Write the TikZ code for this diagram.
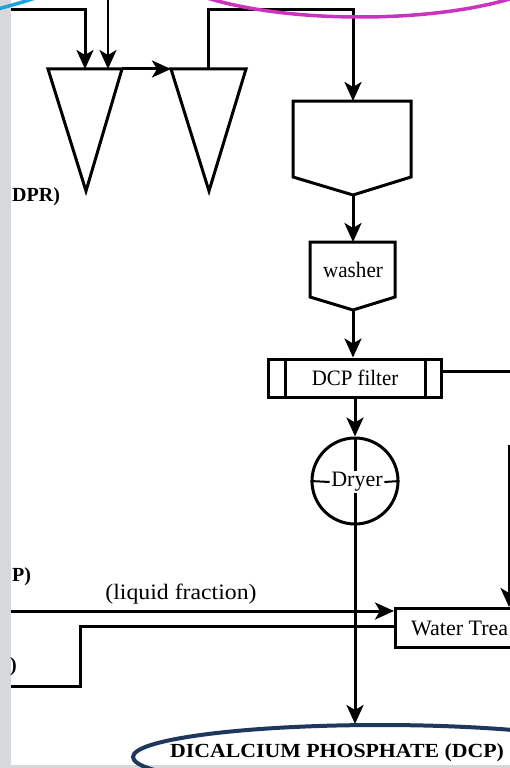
\documentclass[tikz,border=0pt]{standalone}
\usepackage{fontspec}
\setmainfont{Liberation Serif}
\usetikzlibrary{arrows.meta}
\definecolor{bggrey}{RGB}{214,216,218}
\definecolor{cyanarc}{RGB}{30,160,225}
\definecolor{magarc}{RGB}{205,50,190}
\definecolor{navyarc}{RGB}{30,55,95}
\tikzset{
  ln/.style={line width=3pt, line join=miter},
  thinln/.style={line width=2pt},
  arr/.style={ln, -{Stealth[length=19pt,width=17pt,inset=5pt]}},
  lbl/.style={font=\fontsize{22}{24}\selectfont, inner sep=0pt},
  blbl/.style={font=\fontsize{20}{22}\selectfont\bfseries, inner sep=0pt},
}
\begin{document}
\begin{tikzpicture}[x=1pt,y=-1pt]
\useasboundingbox (0,0) rectangle (510,768);
\clip (0,0) rectangle (510,768);
\fill[bggrey] (0,0) rectangle (510,768);
\fill[white] (11,0) rectangle (510,765);

% ---- coordinates
\coordinate (inA0) at (11,10);
\coordinate (inA1) at (85,10);
\coordinate (inB0) at (108,0);
\coordinate (t1L) at (48,69);
\coordinate (t1R) at (122,69);
\coordinate (t1B) at (86,191);
\coordinate (t1inA) at (85,69);
\coordinate (t1inB) at (108,69);
\coordinate (t2L) at (171,69);
\coordinate (t2R) at (246,69);
\coordinate (t2B) at (209,191);
\coordinate (t2out) at (208,69);
\coordinate (ov) at (208,10);
\coordinate (pTL) at (293,101);
\coordinate (pTR) at (411,101);
\coordinate (pBR) at (411,177);
\coordinate (pBL) at (293,177);
\coordinate (pBot) at (353,195);
\coordinate (pTop) at (353,101);
\coordinate (wTL) at (310,242);
\coordinate (wTR) at (395,242);
\coordinate (wBR) at (395,297);
\coordinate (wBL) at (310,297);
\coordinate (wBot) at (353,310);
\coordinate (wTop) at (353,242);
\coordinate (fOutEnd) at (512,371);
\coordinate (rTop) at (509,445);
\coordinate (rEnd) at (509,607);
\coordinate (lfStart) at (11,611);
\coordinate (lfEnd) at (394,611);
\coordinate (lo0) at (11,686);
\coordinate (lo1) at (80,686);
\coordinate (lo2) at (80,626);
\coordinate (wtTL) at (395,608);
\coordinate (wtBL) at (395,647);
\coordinate (wtTR) at (520,608);
\coordinate (wtBR) at (520,647);
\coordinate (dcpTop) at (355,724);

% ---- shapes
\draw[ln] (t1L) -- (t1R) -- (t1B) -- cycle;
\draw[ln] (t2L) -- (t2R) -- (t2B) -- cycle;
\draw[ln] (pTL) -- (pTR) -- (pBR) -- (pBot) -- (pBL) -- cycle;
\draw[ln] (wTL) -- (wTR) -- (wBR) -- (wBot) -- (wBL) -- cycle;
\node[lbl] (washer) at (353,270) {\scalebox{0.96}[1]{washer}};
\node[draw, ln, minimum width=173pt, minimum height=38pt, lbl] (filter) at (355,378) {\scalebox{0.95}[1]{DCP filter}};
\draw[ln] ([xshift=18pt]filter.north west) -- ([xshift=18pt]filter.south west);
\draw[ln] ([xshift=-18pt]filter.north east) -- ([xshift=-18pt]filter.south east);
\node[draw, ln, circle, minimum size=86pt, inner sep=0pt] (dryer) at (355,481) {};
\draw[ln] (dryer.north) -- (dryer.south);
\node[lbl, fill=white, inner sep=1.5pt] (dryertxt) at (357,482) {\scalebox{1.0}[1]{Dryer}};
\draw[thinln] (dryer.west) -- (dryertxt.west);
\draw[thinln] (dryertxt.east) -- (dryer.east);
\draw[ln] (wtTR) -- (wtTL) -- (wtBL) -- (wtBR);
\node[lbl, anchor=west] (wt) at (411,628) {\scalebox{1.0}[1]{Water Trea}};

% ---- connectors
\draw[arr] (inA0) -- (inA1) -- (t1inA);
\draw[arr, line width=2pt] (inB0) -- (t1inB);
\draw[arr] (t1R) -- (t2L);
\draw[arr] (t2out) -- (ov) -| (pTop);
\draw[arr] (pBot) -- (wTop);
\draw[arr] (wBot) -- (wBot |- filter.north);
\draw[ln] (filter.east |- fOutEnd) -- (fOutEnd);
\draw[arr] (filter.south) -- (dryer.north);
\draw[arr] (dryer.south) -- (dcpTop);
\draw[arr] (rTop) -- (rEnd);
\draw[arr] (lfStart) -- (lfEnd);
\draw[ln] (lo0) -- (lo1) -- (lo2) -- (wtBL |- lo2);

% ---- labels
\node[lbl] (liq) at (181,594) {\scalebox{1.08}[1]{(liquid fraction)}};
\node[blbl, anchor=west] (dpr) at (12,197) {DPR)};
\node[blbl, anchor=west] (pp) at (12,577) {P)};
\node[blbl, anchor=west] (par) at (10,667) {)};
\node[blbl] (dcp) at (337,753) {\scalebox{1.09}[1]{DICALCIUM PHOSPHATE (DCP)}};

% ---- highlight ellipses
\draw[navyarc, line width=4pt] (380,757) ellipse [x radius=247, y radius=32];
\draw[magarc, line width=3.5pt] (360,-40) ellipse [x radius=205, y radius=57];
\draw[cyanarc, line width=3.5pt] (-2,9) .. controls (12,5) and (24,2) .. (38,-3);
\end{tikzpicture}
\end{document}
